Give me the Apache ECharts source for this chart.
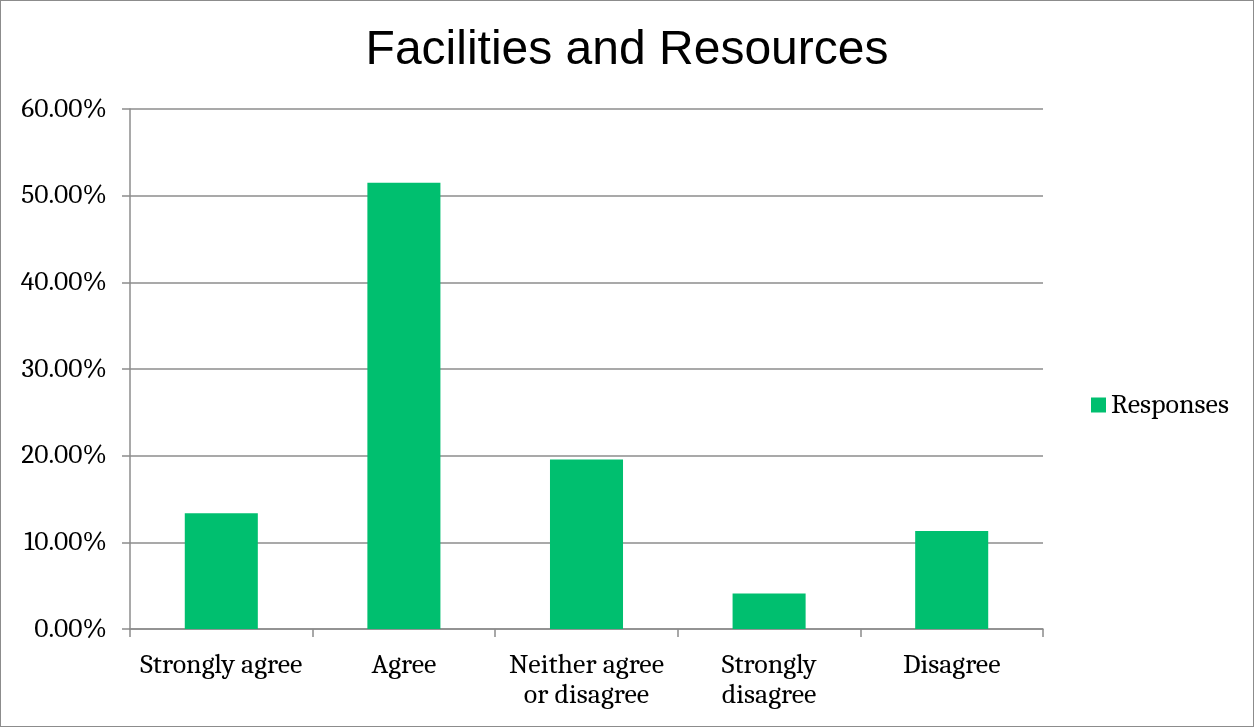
<!DOCTYPE html>
<html>
<head>
<meta charset="utf-8">
<script src="https://cdn.jsdelivr.net/npm/echarts@6/dist/echarts.min.js"></script>
<style>
  html, body { margin: 0; padding: 0; background: #fff; }
  #chart { width: 1254px; height: 727px; box-sizing: border-box; border: 1px solid #8c8c8c; }
</style>
</head>
<body>
<div id="chart"></div>
<script>
// Survey answers for "Facilities and Resources"
const categories = ['Strongly agree', 'Agree', 'Neither agree\nor disagree', 'Strongly\ndisagree', 'Disagree'];
const responses = [13.35, 51.5, 19.55, 4.1, 11.3];
const seriesName = 'Responses';
const titleText = 'Facilities and Resources';

const serif = 'Cambria, Caladea, "DejaVu Serif", "Liberation Serif", serif';
const chart = echarts.init(document.getElementById('chart'));
chart.setOption({
  animation: false,
  title: {
    text: titleText,
    left: 'center',
    top: 21,
    textStyle: { fontFamily: '"Liberation Sans", Arial, sans-serif', fontSize: 48, fontWeight: 'normal', color: '#000' }
  },
  legend: {
    data: [seriesName],
    orient: 'vertical',
    left: 1085,
    top: 385,
    itemWidth: 15,
    itemHeight: 15,
    itemGap: 6,
    icon: 'rect',
    textStyle: { fontFamily: serif, fontSize: 28, color: '#000' }
  },
  grid: { left: 129, right: 210, top: 108, bottom: 97, containLabel: false },
  xAxis: {
    type: 'category',
    data: categories,
    axisLine: { lineStyle: { color: '#8c8c8c', width: 1.5 } },
    axisTick: { show: true, length: 8, lineStyle: { color: '#8c8c8c', width: 1.5 } },
    axisLabel: { fontFamily: serif, fontSize: 28, color: '#000', margin: 21, lineHeight: 30, interval: 0 }
  },
  yAxis: {
    type: 'value',
    min: 0,
    max: 60,
    interval: 10,
    axisLine: { show: true, lineStyle: { color: '#8c8c8c', width: 1.5 } },
    axisTick: { show: true, length: 8, lineStyle: { color: '#8c8c8c', width: 1.5 } },
    splitLine: { lineStyle: { color: '#8c8c8c', width: 1.5 } },
    axisLabel: {
      fontFamily: serif, fontSize: 27.5, color: '#000', margin: 23,
      formatter: v => v.toFixed(2) + '%'
    }
  },
  series: [{
    name: seriesName,
    type: 'bar',
    data: responses,
    barWidth: '40%',
    itemStyle: { color: '#00bf6f' }
  }]
});
</script>
</body>
</html>
